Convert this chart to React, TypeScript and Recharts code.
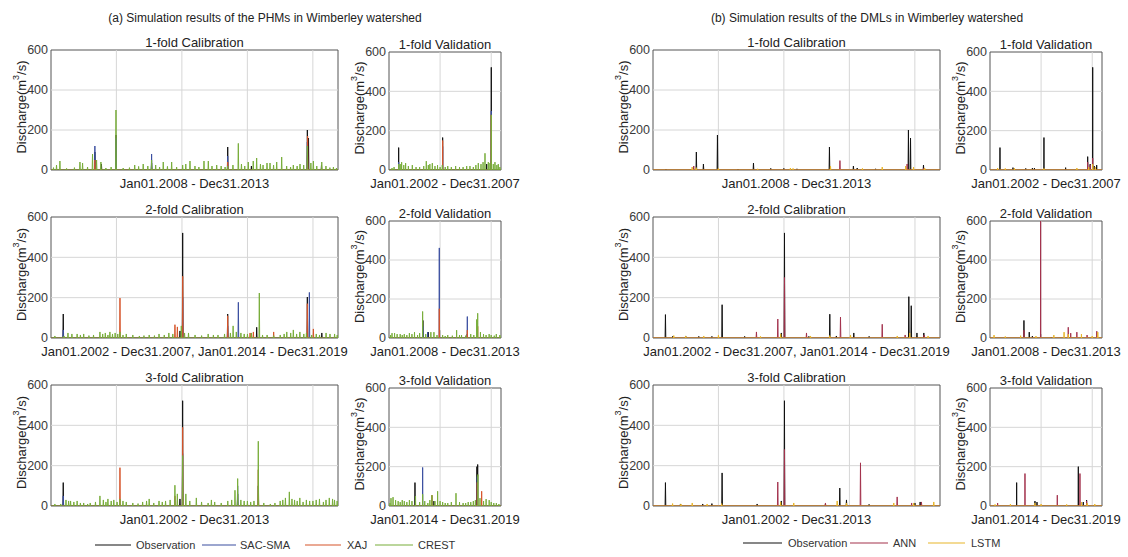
import React from 'react';
import { LineChart, Line, XAxis, YAxis, ReferenceLine, ReferenceArea } from 'recharts';

type Peak = [number, number];

// ---------- data: [day index within period, discharge m3/s] peaks ----------
// (a) PHMs
const obsL1C: Peak[] = [[336, 90], [386, 30], [497, 175], [769, 35], [1350, 115], [1531, 20], [1958, 200], [1967, 160], [2066, 25]];
const sacL1C: Peak[] = [[336, 120], [497, 160], [769, 80], [1350, 70], [1958, 140]];
const xajL1C: Peak[] = [[336, 50], [1350, 40], [1960, 170]];
const crestL1C: Peak[] = [[20, 12], [43, 25], [69, 45], [120, 8], [180, 12], [222, 40], [242, 35], [280, 15], [318, 80], [349, 50], [382, 40], [420, 10], [460, 15], [497, 300], [552, 10], [600, 12], [640, 25], [670, 18], [705, 30], [740, 20], [769, 50], [800, 25], [830, 15], [858, 40], [890, 18], [922, 40], [960, 15], [1006, 25], [1030, 30], [1062, 45], [1100, 20], [1130, 15], [1169, 45], [1202, 45], [1230, 20], [1266, 25], [1300, 20], [1330, 15], [1350, 20], [1390, 25], [1431, 133], [1455, 30], [1480, 20], [1507, 40], [1545, 45], [1571, 60], [1600, 30], [1620, 25], [1650, 35], [1673, 35], [1700, 25], [1724, 40], [1762, 65], [1800, 20], [1830, 15], [1851, 25], [1880, 20], [1902, 30], [1930, 25], [1958, 120], [1985, 35], [2004, 45], [2030, 20], [2068, 40], [2100, 20], [2130, 12], [2157, 15], [2180, 10]];

const obsL1V: Peak[] = [[190, 114], [1050, 165], [1911, 30], [2001, 522]];
const sacL1V: Peak[] = [[190, 40], [1050, 120], [2001, 300]];
const xajL1V: Peak[] = [[1050, 150], [2001, 280]];
const crestL1V: Peak[] = [[60, 10], [100, 15], [190, 30], [220, 30], [248, 40], [290, 25], [326, 35], [380, 20], [457, 25], [530, 15], [600, 15], [680, 20], [730, 45], [770, 25], [800, 30], [848, 35], [900, 20], [950, 25], [1000, 15], [1043, 25], [1100, 15], [1150, 20], [1220, 15], [1304, 20], [1380, 15], [1450, 15], [1520, 20], [1584, 20], [1650, 15], [1700, 25], [1747, 35], [1800, 30], [1840, 40], [1878, 85], [1943, 40], [1975, 35], [2001, 280], [2040, 30], [2073, 40], [2110, 25], [2138, 30], [2170, 15]];

const obsL2C: Peak[] = [[188, 119], [1970, 35], [2011, 521], [2698, 119], [3141, 53], [3914, 203], [4135, 25]];
const sacL2C: Peak[] = [[188, 40], [2011, 200], [2698, 60], [2861, 177], [3945, 226]];
const xajL2C: Peak[] = [[1054, 198], [1893, 66], [1930, 55], [2011, 306], [2698, 110], [3040, 25], [3090, 30], [3400, 30], [3914, 170], [4006, 45]];
const crestL2C: Peak[] = [[60, 10], [200, 10], [260, 25], [320, 20], [400, 20], [450, 15], [500, 20], [580, 12], [650, 15], [748, 30], [790, 20], [830, 25], [870, 15], [900, 30], [940, 20], [980, 25], [1020, 20], [1054, 30], [1100, 15], [1150, 20], [1250, 15], [1350, 10], [1420, 12], [1500, 15], [1580, 12], [1650, 20], [1730, 15], [1800, 25], [1860, 20], [1990, 60], [2040, 25], [2100, 25], [2200, 15], [2300, 12], [2400, 20], [2480, 15], [2550, 15], [2650, 20], [2740, 25], [2781, 60], [2830, 30], [2900, 25], [2950, 20], [3000, 20], [3060, 25], [3181, 223], [3230, 15], [3300, 15], [3400, 12], [3500, 15], [3560, 20], [3600, 30], [3660, 25], [3700, 40], [3750, 20], [3800, 30], [3860, 20], [3900, 25], [3980, 15], [4050, 20], [4100, 15], [4200, 25], [4260, 20], [4330, 20], [4370, 15]];

const obsL2V: Peak[] = [[665, 90], [769, 30], [991, 40], [1532, 20]];
const sacL2V: Peak[] = [[665, 60], [757, 30], [985, 462], [1533, 110]];
const xajL2V: Peak[] = [[985, 150], [1533, 40], [1736, 60]];
const crestL2V: Peak[] = [[30, 15], [60, 25], [110, 25], [160, 20], [220, 20], [260, 15], [300, 20], [350, 15], [400, 25], [450, 20], [500, 30], [560, 15], [600, 25], [659, 136], [720, 20], [820, 30], [880, 30], [940, 15], [1050, 15], [1100, 10], [1150, 15], [1240, 12], [1324, 40], [1380, 15], [1420, 15], [1500, 12], [1600, 20], [1660, 15], [1716, 95], [1736, 127], [1790, 30], [1850, 20], [1900, 15], [1960, 20], [2000, 15], [2060, 12], [2100, 20], [2170, 15]];

const obsL3C: Peak[] = [[188, 116], [1970, 35], [2011, 522], [2851, 60], [3166, 100]];
const sacL3C: Peak[] = [[188, 50], [2011, 260], [2851, 100]];
const xajL3C: Peak[] = [[1054, 190], [1893, 50], [2011, 390], [3166, 180]];
const crestL3C: Peak[] = [[60, 10], [150, 10], [230, 30], [270, 25], [300, 25], [350, 20], [400, 25], [450, 15], [500, 15], [560, 10], [600, 15], [680, 20], [748, 50], [800, 30], [840, 20], [870, 35], [920, 25], [960, 30], [1010, 20], [1054, 35], [1100, 25], [1150, 20], [1250, 15], [1330, 12], [1400, 20], [1460, 25], [1500, 35], [1570, 15], [1650, 25], [1700, 20], [1750, 25], [1820, 30], [1893, 103], [1930, 60], [2011, 250], [2060, 60], [2120, 25], [2220, 40], [2300, 20], [2400, 15], [2450, 30], [2500, 20], [2600, 15], [2700, 25], [2760, 30], [2810, 78], [2851, 136], [2900, 30], [2950, 25], [3000, 25], [3050, 20], [3100, 25], [3166, 321], [3250, 15], [3350, 10], [3420, 15], [3500, 25], [3540, 30], [3580, 40], [3640, 70], [3680, 35], [3720, 30], [3760, 25], [3800, 40], [3850, 20], [3900, 30], [3950, 25], [4000, 25], [4050, 30], [4100, 35], [4160, 20], [4200, 30], [4250, 40], [4300, 35], [4330, 30], [4370, 25]];

const obsL3V: Peak[] = [[509, 119], [880, 25], [1720, 200], [1735, 211]];
const sacL3V: Peak[] = [[659, 196], [1727, 150]];
const xajL3V: Peak[] = [[841, 55], [1727, 120], [1813, 75]];
const crestL3V: Peak[] = [[20, 15], [40, 40], [80, 45], [130, 30], [180, 25], [220, 20], [260, 30], [300, 25], [350, 20], [400, 30], [450, 25], [520, 50], [600, 20], [659, 60], [700, 25], [760, 15], [800, 30], [841, 55], [900, 25], [952, 75], [1000, 25], [1050, 20], [1100, 15], [1150, 15], [1220, 20], [1311, 65], [1380, 20], [1450, 15], [1500, 15], [1550, 20], [1600, 20], [1650, 25], [1690, 30], [1740, 160], [1780, 40], [1850, 25], [1900, 35], [1960, 30], [2000, 20], [2050, 15], [2100, 15], [2150, 10]];

// (b) DMLs
const obsR1C: Peak[] = [[100, 5], [332, 90], [386, 30], [493, 175], [650, 5], [768, 35], [900, 8], [1000, 8], [1100, 6], [1348, 115], [1531, 20], [1560, 10], [1700, 6], [1951, 200], [1967, 160], [2066, 25]];
const annR1C: Peak[] = [[312, 20], [1428, 47], [1941, 30], [2069, 10]];
const lstmR1C: Peak[] = [[300, 15], [330, 12], [500, 8], [800, 6], [1050, 10], [1070, 8], [1356, 20], [1600, 8], [1751, 15], [1930, 20], [1990, 15], [2075, 10]];

const obsR1V: Peak[] = [[196, 114], [450, 12], [700, 8], [830, 10], [870, 10], [1056, 165], [1480, 12], [1911, 68], [1960, 30], [2009, 522], [2040, 20], [2087, 25]];
const annR1V: Peak[] = [[1911, 40], [1960, 25], [2009, 60]];
const lstmR1V: Peak[] = [[150, 10], [300, 8], [480, 10], [1056, 8], [1700, 10], [1930, 15], [2009, 30], [2060, 15]];

const obsR2C: Peak[] = [[191, 116], [300, 8], [500, 10], [700, 8], [900, 8], [1056, 165], [1400, 8], [1960, 25], [2008, 521], [2380, 8], [2700, 118], [2800, 10], [3066, 25], [3300, 8], [3906, 205], [3943, 160], [4030, 25], [4135, 25]];
const annR2C: Peak[] = [[1580, 30], [1906, 94], [2008, 300], [2344, 25], [2863, 104], [3500, 68], [3850, 15], [4140, 15]];
const lstmR2C: Peak[] = [[318, 12], [500, 10], [776, 10], [1000, 15], [1642, 8], [1950, 20], [2405, 10], [2700, 12], [3016, 15], [3729, 10], [3920, 25], [4200, 10]];

const obsR2V: Peak[] = [[665, 90], [769, 30], [830, 10], [991, 20], [1200, 5]];
const annR2V: Peak[] = [[665, 40], [991, 620], [1532, 55], [1580, 25], [1700, 30], [1900, 15], [2090, 35]];
const lstmR2V: Peak[] = [[80, 15], [300, 8], [600, 12], [900, 10], [1250, 15], [1450, 30], [1532, 20], [1790, 20], [2000, 10], [2110, 30]];

const obsR3C: Peak[] = [[191, 116], [420, 10], [760, 10], [900, 12], [1056, 164], [1591, 10], [1960, 25], [2008, 522], [2634, 10], [2853, 89], [2955, 30], [3300, 8], [4000, 15], [4080, 20]];
const annR3C: Peak[] = [[1906, 119], [2008, 280], [2634, 15], [3169, 214], [3729, 45], [3950, 15], [4100, 20]];
const lstmR3C: Peak[] = [[300, 12], [428, 10], [600, 15], [827, 10], [1050, 12], [1950, 20], [2150, 15], [2813, 25], [2955, 15], [3677, 15], [3982, 15], [4288, 20]];

const obsR3V: Peak[] = [[522, 119], [880, 25], [920, 20], [1728, 200], [1825, 20], [1890, 30]];
const annR3V: Peak[] = [[150, 15], [685, 165], [1317, 55], [1760, 165], [1890, 25]];
const lstmR3V: Peak[] = [[100, 8], [400, 10], [880, 15], [1000, 10], [1500, 8], [1790, 20], [1900, 15], [2050, 10]];

const yTicks = [0, 200, 400, 600];
const yGrid = [200, 400];
const xTicks6 = [500, 1000, 1500, 2000];
const xTicks12 = [1000, 2000, 3000, 4000];
const xTicksV = [1000, 2000];

const titles = ['1-fold Calibration', '1-fold Validation', '2-fold Calibration', '2-fold Validation', '3-fold Calibration', '3-fold Validation'];
const xLabels = ['Jan01.2008 - Dec31.2013', 'Jan01.2002 - Dec31.2007', 'Jan01.2002 - Dec31.2007, Jan01.2014 - Dec31.2019', 'Jan01.2008 - Dec31.2013', 'Jan01.2002 - Dec31.2013', 'Jan01.2014 - Dec31.2019'];
const periodDays = [2192, 2191, 4382, 2192, 4383, 2191];

const phmNames = ['Observation', 'SAC-SMA', 'XAJ', 'CREST'];
const dmlNames = ['Observation', 'ANN', 'LSTM'];

// ---------- styling ----------
const FONT = '"Liberation Sans", Arial, Helvetica, sans-serif';
const PHM_COLORS = ['#111111', '#3b4fa0', '#d6542a', '#78ad3a'];
const DML_COLORS = ['#111111', '#a3324d', '#e8b52a'];

const phmData: Peak[][][] = [
  [obsL1C, sacL1C, xajL1C, crestL1C],
  [obsL1V, sacL1V, xajL1V, crestL1V],
  [obsL2C, sacL2C, xajL2C, crestL2C],
  [obsL2V, sacL2V, xajL2V, crestL2V],
  [obsL3C, sacL3C, xajL3C, crestL3C],
  [obsL3V, sacL3V, xajL3V, crestL3V],
];
const dmlData: Peak[][][] = [
  [obsR1C, annR1C, lstmR1C],
  [obsR1V, annR1V, lstmR1V],
  [obsR2C, annR2C, lstmR2C],
  [obsR2V, annR2V, lstmR2V],
  [obsR3C, annR3C, lstmR3C],
  [obsR3V, annR3V, lstmR3V],
];

// layout of plot areas (px)
const rowTopsCal = [50, 217, 385];
const rowTopsVal = [52, 221, 388];
const rowBottoms = [170, 338, 506];

type PanelDef = {
  key: string; x: number; y: number; w: number; h: number; n: number; ticks: number[];
  title: string; xlabel: string; series: { name: string; color: string; peaks: Peak[] }[];
};

function stems(peaks: Peak[], n: number) {
  // stem representation of a daily hydrograph: each peak rises from the base and returns
  const half = n * 0.0012;
  const sorted = [...peaks].sort((a, b) => a[0] - b[0]);
  const pts: { x: number; y: number }[] = [{ x: 1, y: 0 }];
  sorted.forEach(([d, v]) => {
    pts.push({ x: d - half, y: 0 }, { x: d, y: v }, { x: d + half, y: 0 });
  });
  pts.push({ x: n, y: 0 });
  return pts;
}

function buildPanels(prefix: string, calX: number, valX: number, data: Peak[][][], names: string[], colors: string[]): PanelDef[] {
  const out: PanelDef[] = [];
  for (let i = 0; i < 6; i++) {
    const row = Math.floor(i / 2);
    const isCal = i % 2 === 0;
    const top = isCal ? rowTopsCal[row] : rowTopsVal[row];
    const n = periodDays[i];
    out.push({
      key: prefix + i,
      x: isCal ? calX : valX,
      y: top,
      w: isCal ? 287 : 112,
      h: rowBottoms[row] - top,
      n,
      ticks: isCal ? (n > 3000 ? xTicks12 : xTicks6) : xTicksV,
      title: titles[i],
      xlabel: xLabels[i],
      series: names.map((nm, k) => ({ name: nm, color: colors[k], peaks: data[i][k] })),
    });
  }
  return out;
}

const panels: PanelDef[] = [
  ...buildPanels('L', 51, 389, phmData, phmNames, PHM_COLORS),
  ...buildPanels('R', 653, 990, dmlData, dmlNames, DML_COLORS),
];

const ML = 45;
const MT = 6;
const MR = 6;
const MB = 6;
const GRID = '#d6d6d6';

function Panel({ p }: { p: PanelDef }) {
  return (
    <div style={{ position: 'absolute', left: p.x - ML, top: p.y - MT }}>
      <LineChart width={p.w + ML + MR} height={p.h + MT + MB} margin={{ top: MT, right: MR, bottom: MB, left: 0 }}>
        <XAxis
          type="number"
          dataKey="x"
          domain={[1, p.n]}
          ticks={p.ticks}
          allowDataOverflow
          tick={false}
          tickLine={false}
          axisLine={false}
          height={0}
        />
        <YAxis
          type="number"
          domain={[0, 600]}
          ticks={yTicks}
          interval={0}
          allowDataOverflow
          width={ML}
          tickSize={0}
          tickMargin={3}
          axisLine={false}
          tick={{ fontSize: 12.5, fill: '#3a3a3a', fontFamily: FONT }}
        />
        {p.ticks.map((t) => (
          <ReferenceLine key={'gx' + t} x={t} stroke={GRID} strokeWidth={1} />
        ))}
        {yGrid.map((t) => (
          <ReferenceLine key={'gy' + t} y={t} stroke={GRID} strokeWidth={1} />
        ))}
        {p.series.map((s) => (
          <Line
            key={s.name}
            name={s.name}
            data={stems(s.peaks, p.n)}
            dataKey="y"
            stroke={s.color}
            strokeWidth={1}
            dot={false}
            activeDot={false}
            isAnimationActive={false}
          />
        ))}
        <ReferenceArea x1={1} x2={p.n} y1={0} y2={600} fill="none" stroke="#555555" strokeWidth={1} ifOverflow="visible" />
      </LineChart>
    </div>
  );
}

function Texts() {
  const legendL = [
    { name: phmNames[0], color: PHM_COLORS[0], x1: 95, x2: 131, tx: 136 },
    { name: phmNames[1], color: PHM_COLORS[1], x1: 202, x2: 236, tx: 240 },
    { name: phmNames[2], color: PHM_COLORS[2], x1: 305, x2: 341, tx: 347 },
    { name: phmNames[3], color: PHM_COLORS[3], x1: 375, x2: 413, tx: 418 },
  ];
  const legendR = [
    { name: dmlNames[0], color: DML_COLORS[0], x1: 743, x2: 782, tx: 788 },
    { name: dmlNames[1], color: DML_COLORS[1], x1: 850, x2: 888, tx: 893 },
    { name: dmlNames[2], color: DML_COLORS[2], x1: 928, x2: 965, tx: 971 },
  ];
  return (
    <svg width={1128} height={557} style={{ position: 'absolute', left: 0, top: 0, pointerEvents: 'none' }} fontFamily={FONT}>
      <text x={265} y={22} textAnchor="middle" fontSize={12} fill="#222">(a) Simulation results of the PHMs in Wimberley watershed</text>
      <text x={867} y={22} textAnchor="middle" fontSize={12} fill="#222">(b) Simulation results of the DMLs in Wimberley watershed</text>
      {panels.map((p) => {
        const cx = p.x + p.w / 2;
        const ly = p.y + p.h / 2 - 3;
        const lx = p.x - 30;
        return (
          <g key={p.key + 't'}>
            <text x={cx} y={p.y - 3} textAnchor="middle" fontSize={13} fill="#222">{p.title}</text>
            <text x={cx} y={p.y + p.h + 17.5} textAnchor="middle" fontSize={13} fill="#222">{p.xlabel}</text>
            <text x={lx} y={ly} transform={`rotate(-90 ${lx} ${ly})`} textAnchor="middle" dominantBaseline="central" fontSize={13} fill="#222">
              Discharge(m<tspan dy={-5} fontSize={9}>3</tspan><tspan dy={5}>/s)</tspan>
            </text>
          </g>
        );
      })}
      {[...legendL.map((l) => ({ ...l, y: 545 })), ...legendR.map((l) => ({ ...l, y: 543 }))].map((l) => (
        <g key={l.name + l.x1}>
          <line x1={l.x1} x2={l.x2} y1={l.y} y2={l.y} stroke={l.color} strokeWidth={1.2} />
          <text x={l.tx} y={l.y} dominantBaseline="central" fontSize={11} fill="#333">{l.name}</text>
        </g>
      ))}
    </svg>
  );
}

export default function App() {
  return (
    <div style={{ position: 'absolute', left: 0, top: 0, width: 1128, height: 557, background: '#ffffff', overflow: 'hidden' }}>
      {panels.map((p) => (
        <Panel key={p.key} p={p} />
      ))}
      <Texts />
    </div>
  );
}
